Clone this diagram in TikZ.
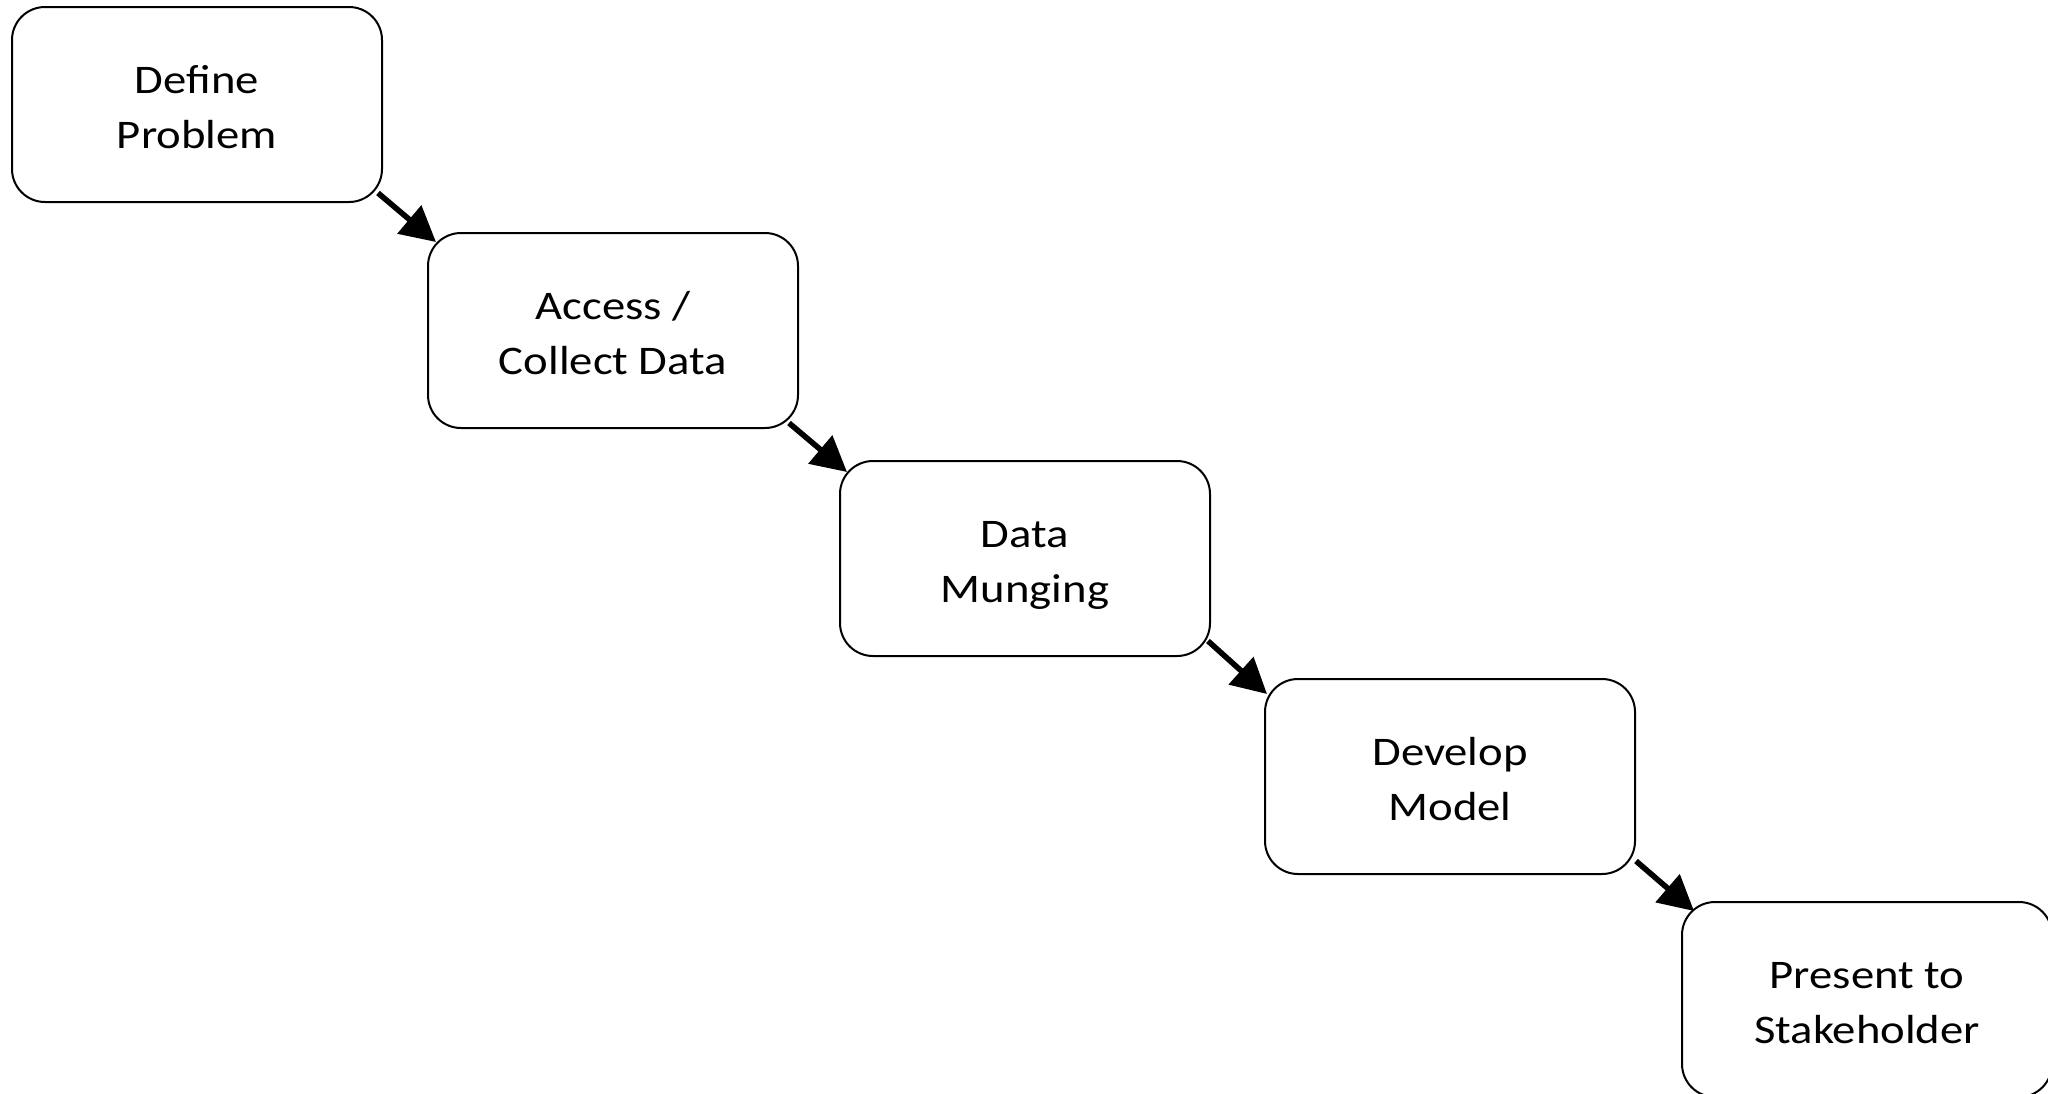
\documentclass[tikz,border=0pt]{standalone}
\usepackage{fontspec}
\setmainfont[FakeStretch=1.15]{Carlito}
\usetikzlibrary{arrows.meta,calc}
\newcommand\twolines[2]{\rule{0pt}{19.5pt}\smash{#1}\\\smash{#2}\rule[-3pt]{0pt}{3pt}}
\begin{document}
\begin{tikzpicture}[x=0.5pt,y=-0.5pt,
  stepbox/.style={draw=black, line width=1pt, rounded corners=16.5pt, fill=white,
    minimum width=185pt, minimum height=97.5pt, inner sep=0pt, align=center,
    font=\fontsize{20.3pt}{27.5pt}\selectfont},
  flow/.style={line width=2.8pt, -{Triangle[length=17.5pt,width=18pt]}}
]
\useasboundingbox (0,0) rectangle (2048,1093);
\clip (0,0) rectangle (2048,1093);
\node[stepbox] (b1) at (197,104.5) {\twolines{Define}{Problem}};
\node[stepbox] (b2) at (613,330.5) {\twolines{Access /}{Collect Data}};
\node[stepbox] (b3) at (1025,558.5) {\twolines{Data}{Munging}};
\node[stepbox] (b4) at (1450,776.5) {\twolines{Develop}{Model}};
\node[stepbox] (b5) at (1867,999.5) {\twolines{Present to}{Stakeholder}};
\draw[flow] ($(b1.south east)+(-5,-10)$) -- ($(b2.north west)+(9,10)$);
\draw[flow] ($(b2.south east)+(-10,-6)$) -- ($(b3.north west)+(8,12)$);
\draw[flow] ($(b3.south east)+(-3,-16)$) -- ($(b4.north west)+(3,16)$);
\draw[flow] ($(b4.south east)+(0,-14)$) -- ($(b5.north west)+(13,10)$);
\end{tikzpicture}
\end{document}
